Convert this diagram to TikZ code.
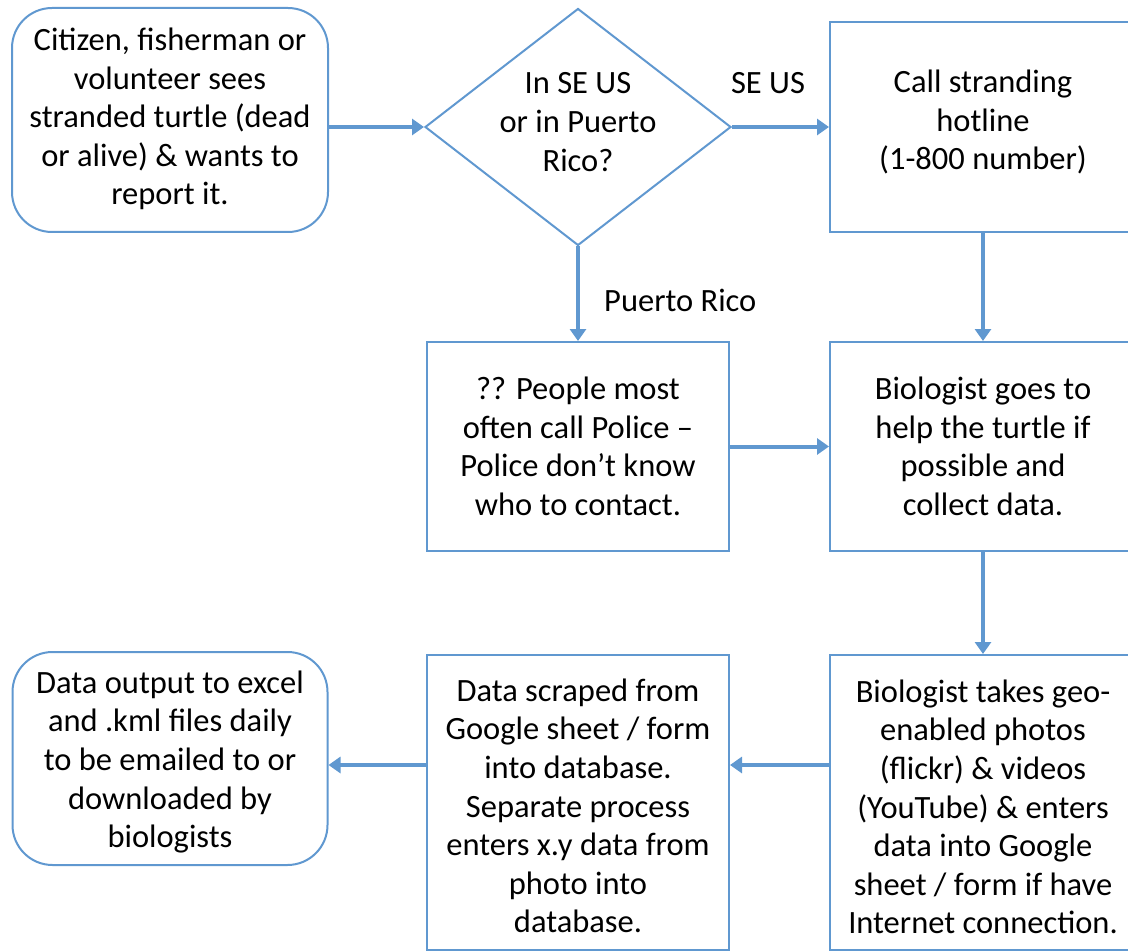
\documentclass[tikz,border=0pt]{standalone}
\usepackage{fontspec}
\setmainfont{Carlito}
\usetikzlibrary{shapes.geometric,arrows.meta,calc}
\definecolor{flowblue}{RGB}{96,152,208}
\begin{document}
\begin{tikzpicture}[x=1pt,y=-1pt,
  every node/.style={font=\fontsize{32.5}{38.6}\selectfont, text=black},
  boxbase/.style={draw=flowblue, line width=2pt, fill=white, inner sep=0pt, align=center},
  roundbox/.style={boxbase, rounded corners=40pt, minimum width=#1},
  rectbox/.style={boxbase, minimum width=#1},
  decision/.style={draw=flowblue, line width=2pt, fill=white, diamond, aspect=1.29, inner sep=0pt, minimum width=306pt, minimum height=237pt},
  txt/.style={align=center, inner sep=0pt},
  arr/.style={draw=flowblue, line width=4pt, -{Triangle[length=12pt,width=16pt]}}
]
\path[use as bounding box] (0,0) rectangle (1128,952);
\clip (0,0) rectangle (1128,952);

% nodes
\node[roundbox=316pt, minimum height=224pt] (start) at (170,120) {};
\node[txt] (starttext) at (170,119)
  {Citizen, fisherman or\\volunteer sees\\stranded turtle (dead\\or alive) \& wants to\\report it.};
\node[decision] (dec) at (578,127) {};
\node[txt] (dectext) at (578,122) {In SE US\\or in Puerto\\Rico?};
\node[rectbox=306pt, minimum height=210pt] (hot) at (983,127) {};
\node[txt] (hottext) at (983,122) {Call stranding\\hotline\\(1-800 number)};
\node[rectbox=302pt, minimum height=209pt] (pol) at (578,446.5)
  {?? People most\\often call Police --\\Police don’t know\\who to contact.};
\node[rectbox=306pt, minimum height=209pt] (bio) at (983,446.5)
  {Biologist goes to\\help the turtle if\\possible and\\collect data.};
\node[rectbox=306pt, minimum height=295pt] (br) at (983,802.5) {};
\node[txt] (brtext) at (983,807)
  {Biologist takes geo-\\enabled photos\\(flickr) \& videos\\(YouTube) \& enters\\data into Google\\sheet / form if have\\Internet connection.};
\node[rectbox=302pt, minimum height=295pt] (bm) at (578,802.5) {};
\node[txt] (bmtext) at (578,806)
  {Data scraped from\\Google sheet / form\\into database.\\Separate process\\enters x.y data from\\photo into\\database.};
\node[roundbox=315pt, minimum height=213pt] (bl) at (170,758.5) {};
\node[txt] (bltext) at (170,762)
  {Data output to excel\\and .kml files daily\\to be emailed to or\\downloaded by\\biologists};

\coordinate (row) at (0,765);

% connectors
\draw[arr] (start.east |- dec.west) -- (dec.west);
\draw[arr] (dec.east) -- (hot.west);
\node[txt] (seus) at (768,83) {SE US};
\draw[arr] (dec.south) -- (pol.north);
\node[txt, anchor=west] (pr) at (604,300) {Puerto Rico};
\draw[arr] (hot.south) -- (bio.north);
\draw[arr] (pol.east) -- (bio.west);
\draw[arr] (bio.south) -- (br.north);
\draw[arr] (br.west |- row) -- (bm.east |- row);
\draw[arr] (bm.west |- row) -- (bl.east |- row);
\end{tikzpicture}
\end{document}
